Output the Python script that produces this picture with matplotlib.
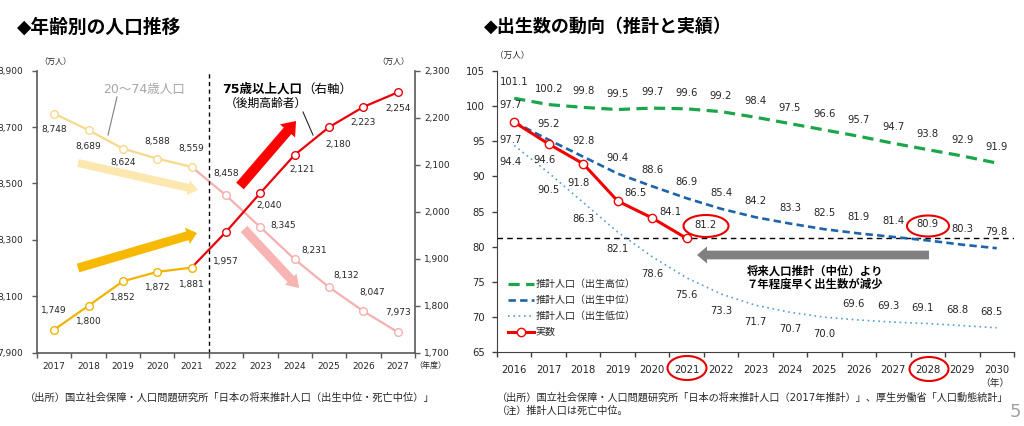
import numpy as np
import matplotlib
matplotlib.use("Agg")
import matplotlib.pyplot as plt
from matplotlib.patches import Ellipse, FancyArrowPatch
from matplotlib.lines import Line2D

plt.rcParams["font.family"] = ["DejaVu Sans", "Noto Sans CJK JP"]

W, H = 1024, 426

# 左：年齢別の人口推移（2017-2021 実績、2022以降 推計）
years_l = ["2017", "2018", "2019", "2020", "2021", "2022",
           "2023", "2024", "2025", "2026", "2027"]
pop_20_74 = [8748, 8689, 8624, 8588, 8559, 8458, 8345, 8231, 8132, 8047, 7973]
pop_75 = [1749, 1800, 1852, 1872, 1881, 1957, 2040, 2121, 2180, 2223, 2254]
n_past = 5

# 右：出生数の動向（万人）
years_r = ["2016", "2017", "2018", "2019", "2020", "2021", "2022", "2023",
           "2024", "2025", "2026", "2027", "2028", "2029", "2030"]
births_high = [101.1, 100.2, 99.8, 99.5, 99.7, 99.6, 99.2, 98.4,
               97.5, 96.6, 95.7, 94.7, 93.8, 92.9, 91.9]
births_mid = [97.7, 95.2, 92.8, 90.4, 88.6, 86.9, 85.4, 84.2,
              83.3, 82.5, 81.9, 81.4, 80.9, 80.3, 79.8]
births_low = [94.4, 90.5, 86.3, 82.1, 78.6, 75.6, 73.3, 71.7,
              70.7, 70.0, 69.6, 69.3, 69.1, 68.8, 68.5]
births_actual = [97.7, 94.6, 91.8, 86.5, 84.1, 81.2]

# ラベル位置のずれ（画像ピクセル、下向き正）
off_20_74 = [(0, 16), (0, 16.5), (0, 14), (0, -17), (0, -18), (0, -22),
             (23, -1.5), (19, -9), (17, -12), (9, -18.5), (0, -20)]
off_75 = [(0, -19), (0, 16), (0, 16), (0, 16), (0, 16.5), (0, 30),
          (9, 13), (7, 15), (9, 17), (0, 16), (0, 16)]
off_actual = [(-4, -17.5), (-4, 16), (-5, 19), (18, -8), (18, -6), (19, -13)]
off_mid = [(-4, 17.5)] + [(0, -16)] * 14
off_low = [(-4, 17)] + [(0, 17)] * 9 + [(-5, -16)] * 5

TXT = "#262626"
SPINE = "#595959"


def fpos(x, y):
    # 画像ピクセル（左上原点）→ figure座標
    return x / W, 1 - y / H


def off(d):
    return d[0] * 0.72, -d[1] * 0.72


fig = plt.figure(figsize=(W / 100, H / 100), dpi=100)

# ---------------- 左グラフ ----------------
yellow, pink, gold, red = "#F7D98C", "#F5B0B0", "#F0B400", "#E8000B"
ax = fig.add_axes([37 / W, 1 - 352.7 / H, 378 / W, 282 / H])
ax2 = ax.twinx()
x_l = np.arange(len(years_l))

ax.plot(x_l[:n_past], pop_20_74[:n_past], color=yellow, lw=1.6, zorder=2)
ax.plot(x_l[n_past - 1:], pop_20_74[n_past - 1:], color=pink, lw=1.6, zorder=2)
ax.plot(x_l[:n_past], pop_20_74[:n_past], ls="none", marker="o", ms=5.5,
        mfc="white", mec=yellow, mew=1.0, zorder=3)
ax.plot(x_l[n_past:], pop_20_74[n_past:], ls="none", marker="o", ms=5.5,
        mfc="white", mec=pink, mew=1.0, zorder=3)

ax2.plot(x_l[:n_past], pop_75[:n_past], color=gold, lw=1.6, zorder=2)
ax2.plot(x_l[n_past - 1:], pop_75[n_past - 1:], color=red, lw=1.6, zorder=2)
ax2.plot(x_l[:n_past], pop_75[:n_past], ls="none", marker="o", ms=5.5,
         mfc="white", mec=gold, mew=1.0, zorder=3)
ax2.plot(x_l[n_past:], pop_75[n_past:], ls="none", marker="o", ms=5.5,
         mfc="white", mec=red, mew=1.0, zorder=3)

for i, v in enumerate(pop_20_74):
    ax.annotate(f"{v:,}", (x_l[i], v), xytext=off(off_20_74[i]),
                textcoords="offset points", ha="center", va="center",
                fontsize=6.5, color=TXT)
for i, v in enumerate(pop_75):
    ax2.annotate(f"{v:,}", (x_l[i], v), xytext=off(off_75[i]),
                 textcoords="offset points", ha="center", va="center",
                 fontsize=6.5, color=TXT)

ax.axvline(n_past - 0.5, color="black", lw=1.0, ls=(0, (3, 2.5)))

ax.set_xlim(-0.5, len(years_l) - 0.5)
ax.set_xticks(x_l, years_l)
ax.set_xticks(np.arange(len(years_l) + 1) - 0.5, minor=True)
ax.tick_params(axis="x", which="major", length=0, pad=7, labelsize=6.5, labelcolor=TXT)
ax.tick_params(axis="x", which="minor", length=3.5, width=1, color=SPINE)
ax.set_ylim(7900, 8900)
yt = np.arange(7900, 8901, 200)
ax.set_yticks(yt, [f"{t:,}" for t in yt])
ax.tick_params(axis="y", length=3.5, width=1, color=SPINE, pad=6.5,
               labelsize=6.5, labelcolor=TXT)
ax2.set_ylim(1700, 2300)
yt2 = np.arange(1700, 2301, 100)
ax2.set_yticks(yt2, [f"{t:,}" for t in yt2])
ax2.tick_params(axis="y", length=3.5, width=1, color=SPINE, pad=3,
                labelsize=6.5, labelcolor=TXT)
for a in (ax, ax2):
    a.spines["top"].set_visible(False)
    for s in a.spines.values():
        s.set_color(SPINE)
        s.set_linewidth(1.2)
ax.spines["right"].set_visible(False)
ax2.spines["left"].set_visible(False)
ax2.spines["bottom"].set_visible(False)

# ---------------- 右グラフ ----------------
green, blue, lblue, rred = "#1BA64B", "#1E64AA", "#5B9BD5", "#F00000"
axr = fig.add_axes([497 / W, 1 - 352.4 / H, 517 / W, 281.6 / H])
x_r = np.arange(len(years_r))
x_a = x_r[:len(births_actual)]

axr.plot(x_r, births_high, color=green, lw=2.3, dashes=(3.5, 2.0),
         label="推計人口（出生高位）")
axr.plot(x_r, births_mid, color=blue, lw=1.9, dashes=(2.8, 1.6),
         label="推計人口（出生中位）")
axr.plot(x_r, births_low, color=lblue, lw=1.2, dashes=(1.0, 2.2),
         label="推計人口（出生低位）")
axr.plot(x_a, births_actual, color=rred, lw=2.2, marker="o", ms=6,
         mfc="white", mec=rred, mew=1.0, label="実数", zorder=4)
axr.axhline(births_actual[-1], color="black", lw=1.0, ls=(0, (4, 3)), zorder=1)

for i, v in enumerate(births_high):
    axr.annotate(f"{v:.1f}", (x_r[i], v), xytext=off((0, -16)),
                 textcoords="offset points", ha="center", va="center",
                 fontsize=7.2, color=TXT)
for i, v in enumerate(births_mid):
    axr.annotate(f"{v:.1f}", (x_r[i], v), xytext=off(off_mid[i]),
                 textcoords="offset points", ha="center", va="center",
                 fontsize=7.2, color=TXT)
for i, v in enumerate(births_low):
    axr.annotate(f"{v:.1f}", (x_r[i], v), xytext=off(off_low[i]),
                 textcoords="offset points", ha="center", va="center",
                 fontsize=7.2, color=TXT)
for i, v in enumerate(births_actual):
    axr.annotate(f"{v:.1f}", (x_a[i], v), xytext=off(off_actual[i]),
                 textcoords="offset points", ha="center", va="center",
                 fontsize=7.2, color=TXT)

axr.set_xlim(-0.5, len(years_r) - 0.5)
axr.set_xticks(x_r, years_r)
axr.set_xticks(np.arange(len(years_r) + 1) - 0.5, minor=True)
axr.tick_params(axis="x", which="major", length=0, pad=9, labelsize=7.2, labelcolor=TXT)
axr.tick_params(axis="x", which="minor", length=3.5, width=1, color="#404040")
axr.set_ylim(65, 105)
axr.set_yticks(np.arange(65, 106, 5))
axr.tick_params(axis="y", length=3.5, width=1, color="#404040", pad=5,
                labelsize=7.2, labelcolor=TXT)
axr.spines["top"].set_visible(False)
axr.spines["right"].set_visible(False)
for s in ("left", "bottom"):
    axr.spines[s].set_color("#404040")

axr.legend(loc="upper left", bbox_to_anchor=fpos(508, 279),
           bbox_transform=fig.transFigure, frameon=False, fontsize=7.2,
           handlelength=2.6, handletextpad=0.15, labelspacing=0.6,
           borderpad=0, borderaxespad=0, labelcolor=TXT)

# ---------------- 矢印・注記 ----------------
def arrow(p0, p1, color, tail, head_w, head_l):
    fig.add_artist(FancyArrowPatch(
        fpos(*p0), fpos(*p1), transform=fig.transFigure,
        arrowstyle=f"simple,head_length={head_l * 0.72},"
                   f"head_width={head_w * 0.72},tail_width={tail * 0.72}",
        mutation_scale=1, color=color, lw=0, shrinkA=0, shrinkB=0))


arrow((78, 163), (198, 190), "#FCE7AE", 8, 15, 10)
arrow((78, 268), (197, 233), "#F7B900", 9, 17, 10)
arrow((240, 186), (296, 121), "#FF0000", 10, 20, 13)
arrow((244, 229), (299, 288), "#F8B3B3", 9, 16, 12)
arrow((929, 255), (697, 255), "#808080", 8.7, 17, 10)


def line(p0, p1, color):
    (x0, y0), (x1, y1) = fpos(*p0), fpos(*p1)
    fig.add_artist(Line2D([x0, x1], [y0, y1], transform=fig.transFigure,
                          color=color, lw=0.8))


line((117, 97), (108, 135), "#7F7F7F")
line((303, 112), (313, 135), "#262626")

for cx, cy, w, h in [(706, 226, 45, 22), (928, 226, 42, 21),
                     (687, 368, 39, 24), (929, 369, 39, 24)]:
    fig.add_artist(Ellipse(fpos(cx, cy), w / W, h / H, transform=fig.transFigure,
                           fill=False, ec="#E60000", lw=1.5))

fig.text(*fpos(17, 27), "◆年齢別の人口推移", fontsize=13.5, fontweight="bold",
         ha="left", va="center")
fig.text(*fpos(484, 27), "◆出生数の動向（推計と実績）", fontsize=13,
         fontweight="bold", ha="left", va="center")

fig.text(*fpos(144, 89), "20〜74歳人口", fontsize=9, color="#A6A6A6",
         ha="center", va="center")
fig.text(*fpos(302, 89), "75歳以上人口", fontsize=9, fontweight="bold",
         ha="right", va="center")
fig.text(*fpos(302, 89), "（右軸）", fontsize=9, ha="left", va="center")
fig.text(*fpos(266, 103), "（後期高齢者）", fontsize=8.5, ha="center", va="center")

fig.text(*fpos(55, 61), "（万人）", fontsize=5.8, color=TXT, ha="center", va="center")
fig.text(*fpos(393, 61), "（万人）", fontsize=5.8, color=TXT, ha="center", va="center")
fig.text(*fpos(430, 365), "（年度）", fontsize=5.8, color=TXT, ha="center", va="center")
fig.text(*fpos(512, 55), "（万人）", fontsize=6.2, color=TXT, ha="center", va="center")
fig.text(*fpos(995, 383), "（年）", fontsize=7, color=TXT, ha="center", va="center")

fig.text(*fpos(815, 271), "将来人口推計（中位）より", fontsize=8.2,
         fontweight="bold", ha="center", va="center")
fig.text(*fpos(815, 284.5), "７年程度早く出生数が減少", fontsize=8.2,
         fontweight="bold", ha="center", va="center")

fig.text(*fpos(25, 398),
         "（出所）国立社会保障・人口問題研究所「日本の将来推計人口（出生中位・死亡中位）」",
         fontsize=7.4, color=TXT, ha="left", va="center")
fig.text(*fpos(497, 398),
         "（出所）国立社会保障・人口問題研究所「日本の将来推計人口（2017年推計）」、"
         "厚生労働省「人口動態統計」",
         fontsize=7.3, color=TXT, ha="left", va="center")
fig.text(*fpos(497, 411), "（注）推計人口は死亡中位。", fontsize=7.3, color=TXT,
         ha="left", va="center")
fig.text(*fpos(1010, 412), "5", fontsize=13, color="#A0A0A0", ha="left", va="center")

fig.savefig("out.png", dpi=100, facecolor="white")
